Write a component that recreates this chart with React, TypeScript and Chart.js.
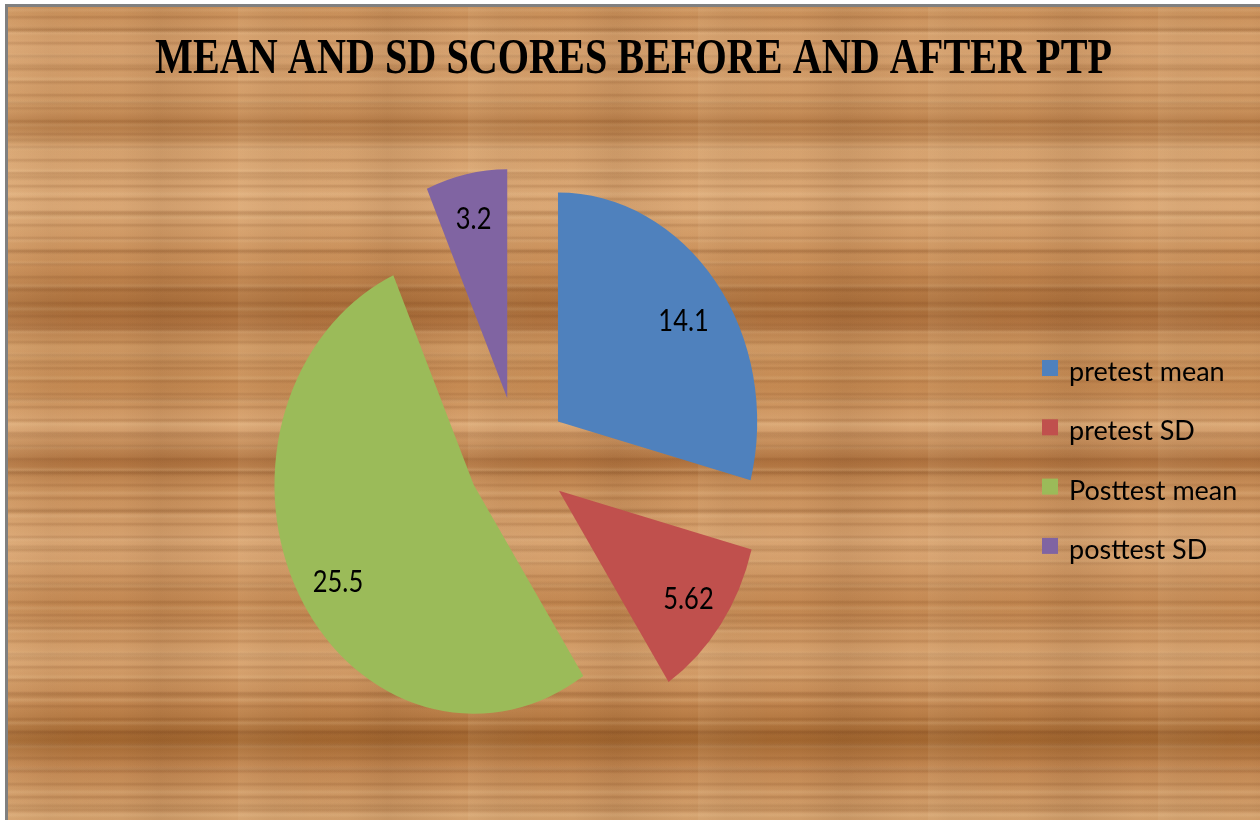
import React, { useEffect, useRef } from "react";
import { Chart, PieController, ArcElement } from "chart.js";

Chart.register(PieController, ArcElement);

// ---- data ----
const categories = ["pretest mean", "pretest SD", "Posttest mean", "posttest SD"];
const values = [14.1, 5.62, 25.5, 3.2];
const valueLabels = ["14.1", "5.62", "25.5", "3.2"];
const titleText = "MEAN AND SD SCORES BEFORE AND AFTER PTP";

// ---- styles ----
const colors = ["#4F81BD", "#C0504D", "#9BBB59", "#8064A2"];
const explode = [58, 58, 58, 60];
const labelNudge = [
  [4, 7],
  [5, 6],
  [-1, 13],
  [-2, -6],
];
const X_SCALE = 0.87;
const PIE_RADIUS = 229;
const LABEL_FONT = "30px Lato";
const LEGEND_FONT = "27px Lato";

const woodBg = [
  "repeating-linear-gradient(90deg, rgba(255,235,200,0.07) 0px, rgba(255,235,200,0) 70px, rgba(90,50,20,0.06) 150px, rgba(255,235,200,0) 230px)",
  "repeating-linear-gradient(90deg, rgba(90,50,20,0) 0px, rgba(90,50,20,0.05) 40px, rgba(90,50,20,0) 113px)",
  "repeating-linear-gradient(180deg, rgba(120,65,25,0) 0px, rgba(120,65,25,0) 8px, rgba(120,65,25,0.2) 10px, rgba(120,65,25,0) 13px)",
  "repeating-linear-gradient(180deg, rgba(110,60,20,0) 0px, rgba(110,60,20,0) 19px, rgba(110,60,20,0.16) 22px, rgba(110,60,20,0) 26px, rgba(110,60,20,0) 37px)",
  "repeating-linear-gradient(180deg, rgba(255,225,180,0) 0px, rgba(255,225,180,0.16) 3px, rgba(255,225,180,0) 6px, rgba(255,225,180,0) 23px)",
  "linear-gradient(180deg, #C98F58 0px, #D9A471 40px, #CF9761 100px, #B57A45 118px, #D8A470 140px, #DDAA77 200px, #C88C55 260px, #A86C38 302px, #B27541 315px, #D09A64 340px, #C68A52 380px, #DBA774 420px, #B0733F 455px, #C98F59 478px, #DCA875 540px, #C38750 600px, #DAA672 650px, #C1854E 700px, #A2662F 733px, #C48852 760px, #D3A06C 805px)",
].join(",");

const decorPlugin = {
  id: "explodedEllipseDecor",
  beforeDatasetsDraw(chart: any) {
    const ctx = chart.ctx as CanvasRenderingContext2D;
    const meta = chart.getDatasetMeta(0);
    const labelPos: { x: number; y: number; t: string }[] = [];
    meta.data.forEach((arc: any, i: number) => {
      const p = arc.getProps(["x", "y", "startAngle", "endAngle", "outerRadius"], true);
      const mid = (p.startAngle + p.endAngle) / 2;
      const d = explode[i];
      ctx.save();
      ctx.translate(p.x, p.y);
      ctx.scale(X_SCALE, 1);
      ctx.translate(Math.cos(mid) * d, Math.sin(mid) * d);
      ctx.translate(-p.x, -p.y);
      arc.draw(ctx);
      ctx.restore();
      const r = d + p.outerRadius * 0.77;
      labelPos.push({
        x: p.x + X_SCALE * Math.cos(mid) * r + labelNudge[i][0],
        y: p.y + Math.sin(mid) * r + labelNudge[i][1],
        t: valueLabels[i],
      });
    });
    ctx.save();
    ctx.font = LABEL_FONT;
    ctx.fillStyle = "#000";
    ctx.textAlign = "center";
    ctx.textBaseline = "middle";
    labelPos.forEach((l) => {
      ctx.save();
      ctx.translate(l.x, l.y);
      ctx.scale(0.85, 1);
      ctx.fillText(l.t, 0, 0);
      ctx.restore();
    });
    ctx.restore();
    return false;
  },
  afterDraw(chart: any) {
    const ctx = chart.ctx as CanvasRenderingContext2D;
    // title
    ctx.save();
    ctx.font = "bold 50px 'Liberation Serif'";
    ctx.fillStyle = "#000";
    ctx.textBaseline = "alphabetic";
    ctx.textAlign = "center";
    const w = ctx.measureText(titleText).width;
    const s = 957 / w;
    ctx.translate(625.5, 66);
    ctx.scale(s, 1);
    ctx.fillText(titleText, 0, 0);
    ctx.restore();
    // legend
    ctx.save();
    ctx.font = LEGEND_FONT;
    ctx.textAlign = "left";
    ctx.textBaseline = "alphabetic";
    categories.forEach((c, i) => {
      const cy = 361 + i * 59.3;
      ctx.fillStyle = colors[i];
      ctx.fillRect(1034, cy - 8, 16, 16);
      ctx.fillStyle = "#000";
      ctx.fillText(c, 1061, cy + 13);
    });
    ctx.restore();
  },
};

export default function App() {
  const ref = useRef<HTMLCanvasElement | null>(null);
  useEffect(() => {
    if (!ref.current) return;
    const chart = new Chart(ref.current, {
      type: "pie",
      data: {
        labels: categories,
        datasets: [
          {
            data: values,
            backgroundColor: colors,
            borderWidth: 0,
            hoverOffset: 0,
            offset: 0,
          },
        ],
      },
      options: {
        responsive: false,
        animation: false,
        events: [],
        radius: PIE_RADIUS,
        layout: { padding: { left: 0, right: 232, top: 87, bottom: 0 } },
        plugins: {
          legend: { display: false },
          title: { display: false },
          tooltip: { enabled: false },
        },
      } as any,
      plugins: [decorPlugin as any],
    });
    return () => chart.destroy();
  }, []);

  return (
    <div style={{ position: "fixed", left: 0, top: 0, width: 1260, height: 820, background: "#fff", overflow: "hidden" }}>
      <div style={{ position: "absolute", left: 5, top: 4, width: 1255, height: 3, background: "#808080" }} />
      <div style={{ position: "absolute", left: 5, top: 4, width: 3, height: 816, background: "#808080" }} />
      <div style={{ position: "absolute", left: 8, top: 7, width: 1252, height: 813, background: woodBg }}>
        <canvas ref={ref} width={1252} height={813} style={{ display: "block" }} />
      </div>
    </div>
  );
}
